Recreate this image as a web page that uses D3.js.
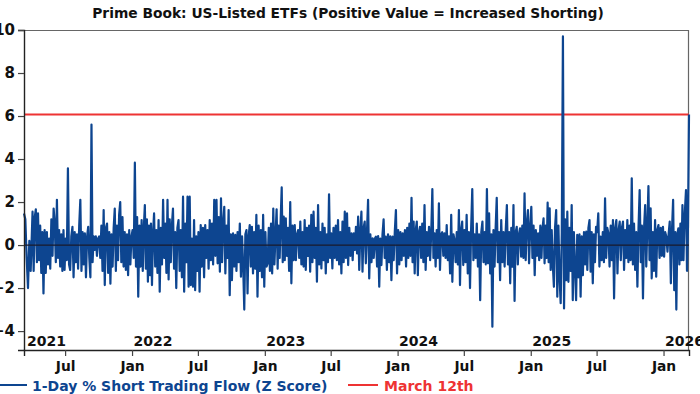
<!DOCTYPE html>
<html>
<head>
<meta charset="utf-8">
<script src="https://cdn.jsdelivr.net/npm/d3@7"></script>
<style>
  body { margin: 0; background: #fff; }
  text { font-family: "DejaVu Sans", Verdana, sans-serif; font-weight: 700; }
</style>
</head>
<body>
<div id="chart"></div>
<script>
// Prime Book short flow z-scores, grouped by calendar month (Mar 2021 .. Mar 2026)
var monthStarts = ["2021-03-10", "2021-04", "2021-05", "2021-06", "2021-07", "2021-08", "2021-09", "2021-10", "2021-11", "2021-12",
    "2022-01", "2022-02", "2022-03", "2022-04", "2022-05", "2022-06", "2022-07", "2022-08", "2022-09", "2022-10", "2022-11", "2022-12",
    "2023-01", "2023-02", "2023-03", "2023-04", "2023-05", "2023-06", "2023-07", "2023-08", "2023-09", "2023-10", "2023-11", "2023-12",
    "2024-01", "2024-02", "2024-03", "2024-04", "2024-05", "2024-06", "2024-07", "2024-08", "2024-09", "2024-10", "2024-11", "2024-12",
    "2025-01", "2025-02", "2025-03", "2025-04", "2025-05", "2025-06", "2025-07", "2025-08", "2025-09", "2025-10", "2025-11", "2025-12",
    "2026-01", "2026-02", "2026-03"];

var flowValues = [
    [1.47, 1.2, -0.6, -2.0, 0.2, -1.2],
    [1.55, -1.2, 1.3, 1.66, -0.8, 1.47, -0.7, 0.9, -1.3, 0.6],
    [-2.25, 0.7, -1.3, 0.6, -0.9, 0.3, -1.1, 1.2, -0.5, 1.7],
    [1.0, -0.8, 2.1, -0.6, 0.7, -1.0, 0.5, -1.2, 0.7, -1.16],
    [0.3, -0.7, 3.57, -0.9, -1.16, 0.4, 0.85, -1.5, 0.6, -0.8],
    [0.5, -1.1, 0.9, 2.1, -1.2, 0.6, -0.9, 0.55, -1.5, 0.4],
    [0.85, -0.6, -1.5, 5.6, -0.8, 0.4, -0.23, 0.4, -0.5, 0.3],
    [0.4, -0.6, 0.9, -1.2, 1.63, -1.86, 0.8, 1.0, -1.3, 0.6],
    [-1.8, 0.5, -1.0, 0.8, 1.7, -1.2, 0.9, -0.7, 1.4, 2.0],
    [-0.8, 1.3, -1.0, 0.6, -1.16, 0.5, -1.4, 0.7, -0.9, 0.4],
    [0.7, -0.6, 3.83, -1.0, 1.3, -2.4, 0.9, -1.0, 1.16, -1.2],
    [0.8, 1.86, -1.1, 1.2, -1.7, 0.9, -1.4, 1.0, -1.86, 0.5],
    [1.47, -1.0, 0.7, -1.3, 1.16, -2.17, 0.8, -0.9, 2.1, -0.6],
    [1.0, -1.3, 2.1, -1.6, 1.2, -0.8, 0.9, 1.7, -1.1, 0.6],
    [-2.0, 0.8, 1.16, -1.2, 0.7, -1.5, 2.25, -2.17, 1.0, -0.8],
    [2.25, -1.94, 2.25, -1.86, 0.3, -1.94, 1.16, -2.1, 0.4, -1.2],
    [0.6, -2.17, 0.93, -1.0, 0.8, -1.5, 0.93, -0.6, 0.7, -1.1],
    [1.16, -0.7, 1.0, -0.9, 2.1, -0.5, 2.1, -0.85, 1.3, -1.24],
    [2.17, -0.8, 1.0, 1.78, -1.32, 0.9, -0.6, 1.63, -2.33, 0.5],
    [-1.63, 0.54, -1.0, 0.47, -1.2, 0.6, -0.8, 1.0, -1.47, 0.4],
    [-1.0, -3.0, 0.5, 0.7, -2.25, 0.4, 0.93, -1.0, 0.85, -1.32],
    [0.6, -1.1, 1.4, -2.4, 0.9, -1.2, 0.7, -1.5, 1.4, -1.94],
    [0.6, -1.0, -0.85, 0.8, -1.2, 1.0, -1.32, 1.7, -0.9, 0.5],
    [1.66, -1.1, 0.9, -0.6, 1.2, 2.68, -0.8, 1.32, -0.7, 1.24],
    [-0.5, 0.8, -1.2, 2.0, -1.78, 0.9, -0.7, 0.93, -0.7, 0.5],
    [0.7, -0.6, 1.09, -0.9, 0.6, -1.0, 1.16, -1.16, 0.8, -0.5],
    [0.9, -1.24, 1.4, -0.8, 1.55, -0.6, 0.8, -1.7, 1.86, -0.9],
    [0.6, -1.09, 1.0, -0.7, 0.8, -1.32, 0.5, -0.8, 2.36, -0.6],
    [0.54, -1.09, 0.8, -0.6, 0.9, -0.7, 1.16, -0.9, 0.6, -1.32],
    [1.09, -0.8, 1.55, -0.6, 1.47, -0.93, 0.8, -0.5, 0.54, -0.7],
    [0.54, -0.23, 0.85, -0.39, 1.32, -1.16, 0.6, 1.55, -1.24, 0.8],
    [1.09, -0.85, 0.6, 2.1, -1.55, 0.5, -0.8, 0.31, -0.6, 0.3],
    [0.39, -1.0, 0.42, -1.94, 0.3, -0.93, 0.5, 1.2, -0.6, 0.39],
    [-1.16, 0.5, -0.8, 0.4, -1.63, 0.39, -0.7, 0.6, 1.63, -1.32],
    [0.7, -0.9, 0.6, -0.7, 0.54, -0.5, 0.7, -1.0, 0.8, -0.6],
    [1.0, -0.5, 2.2, -0.8, 1.09, -1.32, 0.7, 1.09, -1.4, 0.6],
    [0.85, -0.6, 1.0, -0.8, 1.86, -1.16, 0.6, -0.5, 0.85, -0.7],
    [0.6, 2.6, -0.6, 0.54, -1.0, 0.7, -0.6, 1.94, -1.16, 0.5],
    [0.6, -0.5, 0.54, -0.6, 0.93, -0.7, 0.4, -1.32, 1.4, -1.71],
    [0.5, 0.23, -0.8, 0.6, -0.9, 1.63, -1.86, 0.7, 1.09, -0.93],
    [0.7, -0.8, 1.4, -1.32, 0.6, -2.0, 0.8, 2.6, -0.7, 0.5],
    [-0.6, 1.0, -1.0, 0.5, -2.56, 0.6, 1.09, -0.8, 0.6, -0.9],
    [2.6, -0.85, 1.47, -1.32, 0.5, -3.8, 0.7, -1.0, 0.8, 2.2],
    [-0.8, 0.6, -1.63, 1.16, -0.8, 0.6, -1.0, 0.7, 1.86, -0.9],
    [0.6, -1.78, 0.8, -1.0, 1.86, -2.6, 0.6, 0.85, -0.9, 0.5],
    [0.78, -0.54, 0.9, -0.6, 2.4, -0.7, 1.0, 1.63, -0.85, 0.8],
    [1.78, -0.6, 0.9, -1.4, 0.7, -0.5, 0.54, -0.7, 0.9, -0.6],
    [0.8, 1.24, -0.85, 0.9, -0.6, 1.97, -0.8, 1.71, -1.16, 0.7],
    [-0.9, -1.94, 0.8, 1.63, -2.4, 0.9, -1.5, -2.7, 0.6, 9.7],
    [-2.95, 1.2, -1.63, 1.55, -1.71, 0.8, -1.2, 1.86, -2.56, 0.6],
    [-1.0, -2.56, 0.47, -1.5, 0.5, -2.4, 0.4, -1.4, 0.6, -0.9],
    [0.62, -1.16, 0.8, 1.16, -1.24, 0.6, -1.78, 0.5, -0.8, 0.85],
    [0.6, 1.47, -1.0, 0.39, -0.7, 0.6, -0.8, 2.17, -0.6, 0.8],
    [0.54, -1.0, 0.9, -0.7, 1.16, -2.48, 0.8, 1.16, -1.32, 0.7],
    [1.09, -0.7, 0.8, 1.09, -1.16, 0.7, -0.6, 1.16, -0.8, 0.9],
    [-0.7, 3.1, -0.9, 1.0, -1.16, 0.6, -1.94, 0.8, 2.56, -0.8],
    [0.9, -2.48, 0.8, 1.86, -1.0, 0.9, 2.74, -0.7, 1.71, -1.55],
    [0.6, -1.2, 1.16, -1.47, 0.7, 0.93, -0.6, 0.8, -0.5, 0.85],
    [-0.54, 0.6, 0.39, -0.31, 0.5, 1.09, -1.78, 0.7, 2.1, -2.1],
    [0.6, -3.0, 0.5, 0.78, -0.9, 1.0, -0.7, 1.86, -0.7, 1.2],
    [2.56, -1.2, 0.9, 6.07]
];

var lastDate = "2026-03-12";
var march12Level = 6.07;
var yTicks = [-4, -2, 0, 2, 4, 6, 8, 10];
var years = [2021, 2022, 2023, 2024, 2025, 2026];
var seriesName = "1-Day % Short Trading Flow (Z Score)";
var markerName = "March 12th";
var title = "Prime Book: US-Listed ETFs (Positive Value = Increased Shorting)";

var svgWidth = 700;
var svgHeight = 394;
var margin = { top: 30, right: 11, bottom: 44, left: 24 };
var width = svgWidth - margin.left - margin.right;
var height = svgHeight - margin.top - margin.bottom;

var blue = "#0d4590";
var red = "#ee3333";
var font = "'DejaVu Sans', Verdana, sans-serif";

var parseDay = d3.timeParse("%Y-%m-%d");
var parseMonth = d3.timeParse("%Y-%m");
function parseStart(s) { return s.length > 7 ? parseDay(s) : parseMonth(s); }

// spread each month's readings across that month
var points = [];
flowValues.forEach(function(vals, i) {
    var start = parseStart(monthStarts[i]);
    var end = i < monthStarts.length - 1 ? parseStart(monthStarts[i + 1]) : parseDay(lastDate);
    var span = end - start;
    var n = vals.length;
    vals.forEach(function(v, k) {
        var frac;
        if (i === 0) frac = k / n;
        else if (i === flowValues.length - 1) frac = (k + 1) / n;
        else frac = (k + 0.5) / n;
        points.push({ date: new Date(+start + frac * span), value: v });
    });
});

var svg = d3.select("#chart")
    .append("svg")
    .attr("width", svgWidth)
    .attr("height", svgHeight);

var chartGroup = svg.append("g")
    .attr("transform", `translate(${margin.left}, ${margin.top})`);

var xTimeScale = d3.scaleTime()
    .domain([parseStart(monthStarts[0]), parseDay(lastDate)])
    .range([0, width]);

var yLinearScale = d3.scaleLinear()
    .domain([-4.88, 10])
    .range([height, 0]);

// title
svg.append("text")
    .attr("x", 348)
    .attr("y", 18)
    .attr("text-anchor", "middle")
    .attr("font-size", "13.8px")
    .attr("fill", "#111")
    .text(title);

// frame (top and right)
chartGroup.append("path")
    .attr("d", `M0,0.5H${width - 0.5}V${height}`)
    .attr("fill", "none")
    .attr("stroke", "#666")
    .attr("stroke-width", 1.2);

// red reference level
chartGroup.append("line")
    .attr("x1", 0)
    .attr("x2", width)
    .attr("y1", yLinearScale(march12Level))
    .attr("y2", yLinearScale(march12Level))
    .attr("stroke", red)
    .attr("stroke-width", 2);

// series
var line = d3.line()
    .x(d => xTimeScale(d.date))
    .y(d => yLinearScale(d.value));

chartGroup.append("path")
    .datum(points)
    .attr("d", line)
    .attr("fill", "none")
    .attr("stroke", blue)
    .attr("stroke-width", 2.2)
    .attr("stroke-linejoin", "round");

// zero line
chartGroup.append("line")
    .attr("x1", 0)
    .attr("x2", width)
    .attr("y1", yLinearScale(0))
    .attr("y2", yLinearScale(0))
    .attr("stroke", "#1a1a2a")
    .attr("stroke-width", 1.2);

// left axis
var leftAxis = d3.axisLeft(yLinearScale)
    .tickValues(yTicks)
    .tickSize(6)
    .tickPadding(3);

var yAxisG = chartGroup.append("g").call(leftAxis);
yAxisG.select(".domain").attr("stroke", "#222").attr("stroke-width", 1.4);
yAxisG.selectAll(".tick line").attr("stroke", "#444").attr("stroke-width", 1.2);
yAxisG.selectAll(".tick text")
    .attr("font-size", "15px")
    .attr("font-family", font)
    .attr("font-weight", 700)
    .attr("fill", "#111");

// bottom axis: Jan and Jul ticks
var monthTicks = d3.timeMonth.range(parseMonth("2021-07"), parseDay(lastDate), 6);
var bottomAxis = d3.axisBottom(xTimeScale)
    .tickValues(monthTicks)
    .tickFormat(d3.timeFormat("%b"))
    .tickSize(6)
    .tickPadding(5);

var xAxisG = chartGroup.append("g")
    .attr("transform", `translate(0, ${height})`)
    .call(bottomAxis);
xAxisG.select(".domain").attr("stroke", "#222").attr("stroke-width", 1.4);
xAxisG.selectAll(".tick line").attr("stroke", "#444").attr("stroke-width", 1.2);
xAxisG.selectAll(".tick text")
    .attr("font-size", "13.8px")
    .attr("font-family", font)
    .attr("font-weight", 700)
    .attr("fill", "#111");

// year labels inside the plot, starting at January
chartGroup.append("g").selectAll("text")
    .data(years)
    .enter()
    .append("text")
    .attr("x", d => Math.max(3, xTimeScale(new Date(d, 0, 1)) + 1.5))
    .attr("y", height - 4)
    .attr("font-size", "14px")
    .attr("fill", "#111")
    .text(d => d);

// legend
var legend = svg.append("g").attr("transform", "translate(0, 385)");
legend.append("line")
    .attr("x1", -2).attr("x2", 27)
    .attr("stroke", blue).attr("stroke-width", 2);
legend.append("text")
    .attr("x", 32).attr("y", 5.5)
    .attr("font-size", "14px")
    .attr("fill", blue)
    .text(seriesName);
legend.append("line")
    .attr("x1", 348).attr("x2", 378)
    .attr("stroke", red).attr("stroke-width", 2);
legend.append("text")
    .attr("x", 384).attr("y", 5.5)
    .attr("font-size", "14px")
    .attr("fill", red)
    .text(markerName);
</script>
</body>
</html>
